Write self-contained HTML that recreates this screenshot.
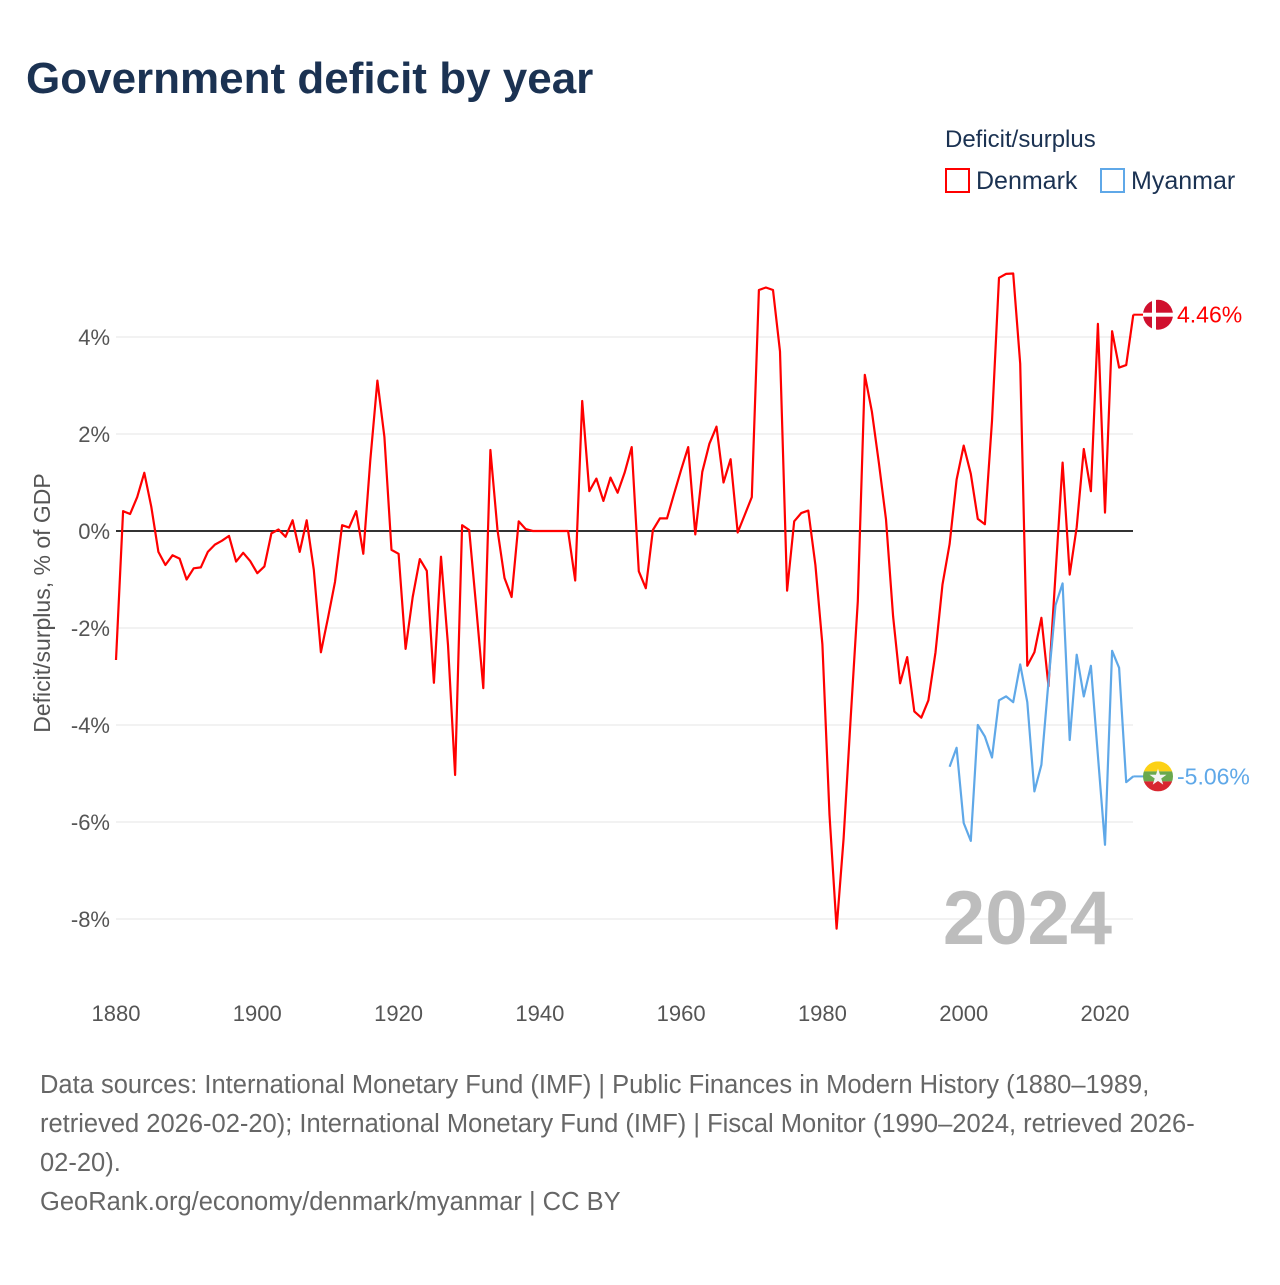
<!DOCTYPE html>
<html><head><meta charset="utf-8"><style>
body{margin:0;background:#fff;width:1280px;height:1280px;overflow:hidden;font-family:"Liberation Sans",sans-serif}
</style></head><body>
<svg id="chart" width="1280" height="1280" xmlns="http://www.w3.org/2000/svg">
<text x="26" y="93" font-size="44" font-weight="bold" fill="#1b3252">Government deficit by year</text>
<text x="945" y="147" font-size="24" fill="#1b3252">Deficit/surplus</text>
<g><rect x="946" y="169" width="23" height="23" fill="none" stroke="#f00" stroke-width="2"/><text x="976" y="189" font-size="25" fill="#1b3252">Denmark</text></g>
<g><rect x="1101" y="169" width="23" height="23" fill="none" stroke="#5fa8e8" stroke-width="2"/><text x="1131" y="189" font-size="25" fill="#1b3252">Myanmar</text></g>
<g id="grid"></g><g id="yticks"></g><g id="xticks"></g><g id="lines"></g>
<text transform="translate(50,603) rotate(-90)" text-anchor="middle" font-size="23" fill="#555">Deficit/surplus, % of GDP</text>
<text x="1112" y="944" text-anchor="end" font-size="76" font-weight="bold" fill="#bdbdbd">2024</text>
<g font-size="25.5" fill="#666">
<text x="40" y="1093">Data sources: International Monetary Fund (IMF) | Public Finances in Modern History (1880–1989,</text>
<text x="40" y="1132">retrieved 2026-02-20); International Monetary Fund (IMF) | Fiscal Monitor (1990–2024, retrieved 2026-</text>
<text x="40" y="1171">02-20).</text>
<text x="40" y="1210">GeoRank.org/economy/denmark/myanmar | CC BY</text>
</g>
</svg>
<script>
const yTicks=[4,2,0,-2,-4,-6,-8];
const xTicks=[1880,1900,1920,1940,1960,1980,2000,2020];
const denmarkStart=1880;
const denmark=[-2.66,0.41,0.35,0.7,1.2,0.5,-0.43,-0.7,-0.5,-0.57,-1.0,-0.77,-0.75,-0.43,-0.28,-0.2,-0.1,-0.63,-0.45,-0.62,
-0.87,-0.73,-0.05,0.03,-0.12,0.22,-0.43,0.22,-0.8,-2.5,-1.8,-1.05,0.12,0.07,0.41,-0.47,1.46,3.1,1.94,-0.39,
-0.47,-2.43,-1.36,-0.58,-0.82,-3.13,-0.53,-2.35,-5.03,0.12,0.02,-1.59,-3.24,1.67,0.02,-0.97,-1.36,0.2,0.04,0,
0,0,0,0,0,-1.02,2.68,0.82,1.08,0.62,1.1,0.79,1.2,1.73,-0.83,-1.18,0.02,0.26,0.26,0.77,
1.26,1.73,-0.07,1.22,1.8,2.15,1.0,1.48,-0.03,0.33,0.7,4.97,5.02,4.97,3.7,-1.23,0.2,0.37,0.42,-0.7,
-2.34,-5.85,-8.2,-6.34,-3.85,-1.45,3.22,2.46,1.4,0.24,-1.76,-3.14,-2.6,-3.72,-3.85,-3.49,-2.5,-1.1,-0.27,1.06,
1.76,1.18,0.25,0.14,2.27,5.22,5.3,5.31,3.45,-2.78,-2.5,-1.79,-3.2,-0.9,1.41,-0.9,0.08,1.69,0.82,4.27,
0.38,4.12,3.37,3.42,4.46];
const myanmarStart=1998;
const myanmar=[-4.86,-4.47,-6.02,-6.39,-4.0,-4.24,-4.67,-3.49,-3.41,-3.53,-2.75,-3.53,-5.37,-4.82,-3.1,-1.53,-1.08,-4.31,-2.55,-3.41,-2.78,-4.63,-6.47,-2.47,-2.82,-5.18,-5.06];
const NS="http://www.w3.org/2000/svg";
const X=y=>116+(y-1880)*(989/140);
const Y=v=>531-v*48.5;
function mk(t,a,p){const e=document.createElementNS(NS,t);for(const k in a)e.setAttribute(k,a[k]);p.appendChild(e);return e;}
const grid=document.getElementById('grid'),yt=document.getElementById('yticks'),xt=document.getElementById('xticks'),ln=document.getElementById('lines');
yTicks.forEach(v=>{
 const g=mk('line',{x1:116,x2:1133,y1:Y(v),y2:Y(v),stroke:v===0?'#333':'#e6e6e6','stroke-width':v===0?2:1},grid);
 
 
 const t=mk('text',{x:110,y:Y(v)+8,'text-anchor':'end','font-size':22,fill:'#555'},yt);
 t.textContent=v+'%';
 
 
});
xTicks.forEach(y=>{
 const t=mk('text',{x:X(y),y:1021,'text-anchor':'middle','font-size':22,fill:'#555'},xt);
 t.textContent=y;
 
 
});
function series(arr,start,color,name){
 const pts=arr.map((v,i)=>X(start+i).toFixed(1)+','+Y(v).toFixed(1)).join(' ');
 const p=mk('polyline',{points:pts,fill:'none',stroke:color,'stroke-width':2.2,'stroke-linejoin':'round'},ln);
 
 
 const last=arr[arr.length-1],lx=X(start+arr.length-1),ly=Y(last);
 mk('line',{x1:lx,x2:lx+14,y1:ly,y2:ly,stroke:color,'stroke-width':2},ln);
 return {lx,ly,last};
}
const d=series(denmark,denmarkStart,'#ff0000','denmark');
const m=series(myanmar,myanmarStart,'#5fa8e8','myanmar');
const df=mk('g',{},ln);


mk('circle',{cx:1158,cy:d.ly,r:15,fill:'#d0102e'},df);
mk('rect',{x:1143,y:d.ly-2,width:30,height:4,fill:'#fff'},df);
mk('rect',{x:1152,y:d.ly-15,width:4,height:30,fill:'#fff'},df);
const dl=mk('text',{x:1177,y:d.ly+8,'font-size':23,fill:'#ff0000'},ln);
dl.textContent=d.last.toFixed(2)+'%';


const mf=mk('g',{},ln);


const cp=mk('clipPath',{id:'mc'},mf);mk('circle',{cx:1158,cy:m.ly,r:15},cp);
mk('rect',{x:1143,y:m.ly-15,width:30,height:10,fill:'#fcd116','clip-path':'url(#mc)'},mf);
mk('rect',{x:1143,y:m.ly-5,width:30,height:10,fill:'#6aa84f','clip-path':'url(#mc)'},mf);
mk('rect',{x:1143,y:m.ly+5,width:30,height:10,fill:'#d8262f','clip-path':'url(#mc)'},mf);
mk('text',{x:1158,y:m.ly+8,'text-anchor':'middle','font-size':22,fill:'#f4f4f4'},mf).textContent='★';
const ml=mk('text',{x:1177,y:m.ly+8,'font-size':23,fill:'#5fa8e8'},ln);
ml.textContent=m.last.toFixed(2)+'%';


</script>
</body></html>
